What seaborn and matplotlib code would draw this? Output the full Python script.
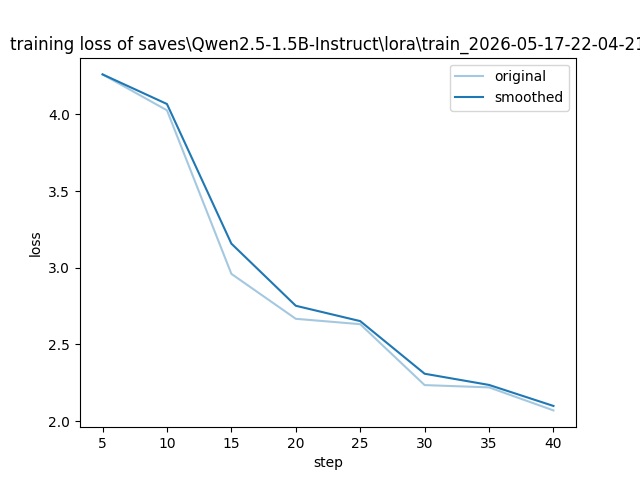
import matplotlib
matplotlib.use("Agg")
import matplotlib.pyplot as plt
import seaborn as sns
import pandas as pd

steps = [5, 10, 15, 20, 25, 30, 35, 40]
original = [4.26, 4.026, 2.96, 2.667, 2.632, 2.235, 2.22, 2.07]
smoothed = [4.26, 4.067, 3.157, 2.752, 2.652, 2.309, 2.236, 2.099]

title = r"training loss of saves\Qwen2.5-1.5B-Instruct\lora\train_2026-05-17-22-04-21"

df = pd.DataFrame({"step": steps, "original": original, "smoothed": smoothed})

fig, ax = plt.subplots(figsize=(6.4, 4.8), dpi=100)
sns.lineplot(data=df, x="step", y="original", ax=ax, color="#1f77b4", alpha=0.4, label="original")
sns.lineplot(data=df, x="step", y="smoothed", ax=ax, color="#1f77b4", label="smoothed")
ax.set_title(title)
ax.set_xlabel("step")
ax.set_ylabel("loss")
ax.legend()
fig.savefig("out.png", dpi=100)
